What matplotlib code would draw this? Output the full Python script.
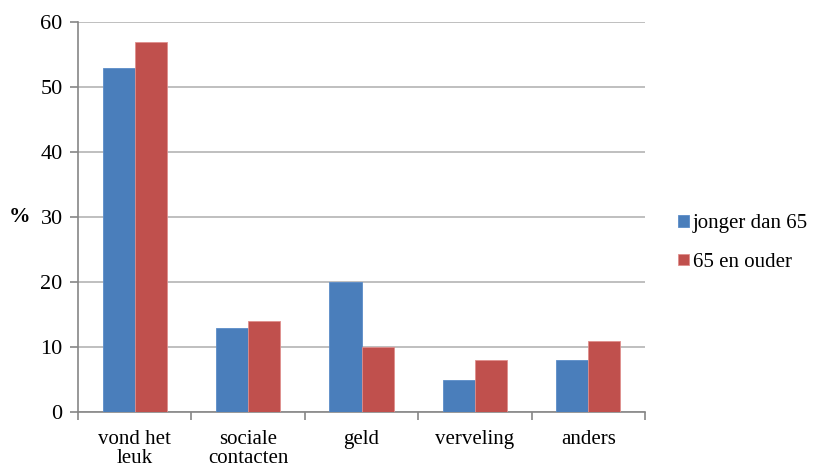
import matplotlib
matplotlib.use("Agg")
import matplotlib.pyplot as plt
import numpy as np

categories = ["vond het\nleuk", "sociale\ncontacten", "geld", "verveling", "anders"]
jonger = [53, 13, 20, 5, 8]
ouder = [57, 14, 10, 8, 11]
series_names = ["jonger dan 65", "65 en ouder"]
yticks = [0, 10, 20, 30, 40, 50, 60]

plt.rcParams["font.family"] = ["Liberation Serif", "DejaVu Serif"]

fig = plt.figure(figsize=(8.13, 4.69), dpi=100)
ax = fig.add_axes([78 / 813, 1 - 412 / 469, (645 - 78) / 813, (412 - 22) / 469])

x = np.arange(len(categories))
w = 0.283
ax.bar(x - w / 2, jonger, w, color="#4a7ebb", edgecolor="#5b8cc8", linewidth=0.6,
       label=series_names[0], zorder=3)
ax.bar(x + w / 2, ouder, w, color="#c0504d", edgecolor="#e08e8c", linewidth=0.6,
       label=series_names[1], zorder=3)

ax.set_xlim(-0.5, len(categories) - 0.5)
ax.set_ylim(0, 60)
ax.set_yticks(yticks)
ax.yaxis.grid(True, color="#bfbfbf", linewidth=1.4, zorder=0)
ax.set_axisbelow(True)

for s in ["top", "right"]:
    ax.spines[s].set_visible(False)
for s in ["left", "bottom"]:
    ax.spines[s].set_color("#868686")
    ax.spines[s].set_linewidth(1.2)

ax.set_xticks(x)
ax.set_xticklabels(categories, fontsize=15, linespacing=1.0)
ax.tick_params(axis="x", length=0, pad=13)
ax.set_xticks(np.arange(-0.5, len(categories)), minor=True)
ax.tick_params(axis="x", which="minor", length=6, color="#868686", width=1.2)
ax.tick_params(axis="y", length=6, color="#868686", width=1.2, labelsize=16, pad=5)

ax.set_ylabel("%", rotation=0, fontsize=15.5, fontweight="bold", va="center")
ax.yaxis.set_label_coords(-0.104, 0.5)

ax.legend(loc="center left", bbox_to_anchor=(670 / 813, 0.482), bbox_transform=fig.transFigure,
          frameon=False, fontsize=15, handlelength=0.5, handleheight=0.5,
          handletextpad=0.2, labelspacing=0.95, borderaxespad=0)

fig.savefig("out.png", dpi=100)
